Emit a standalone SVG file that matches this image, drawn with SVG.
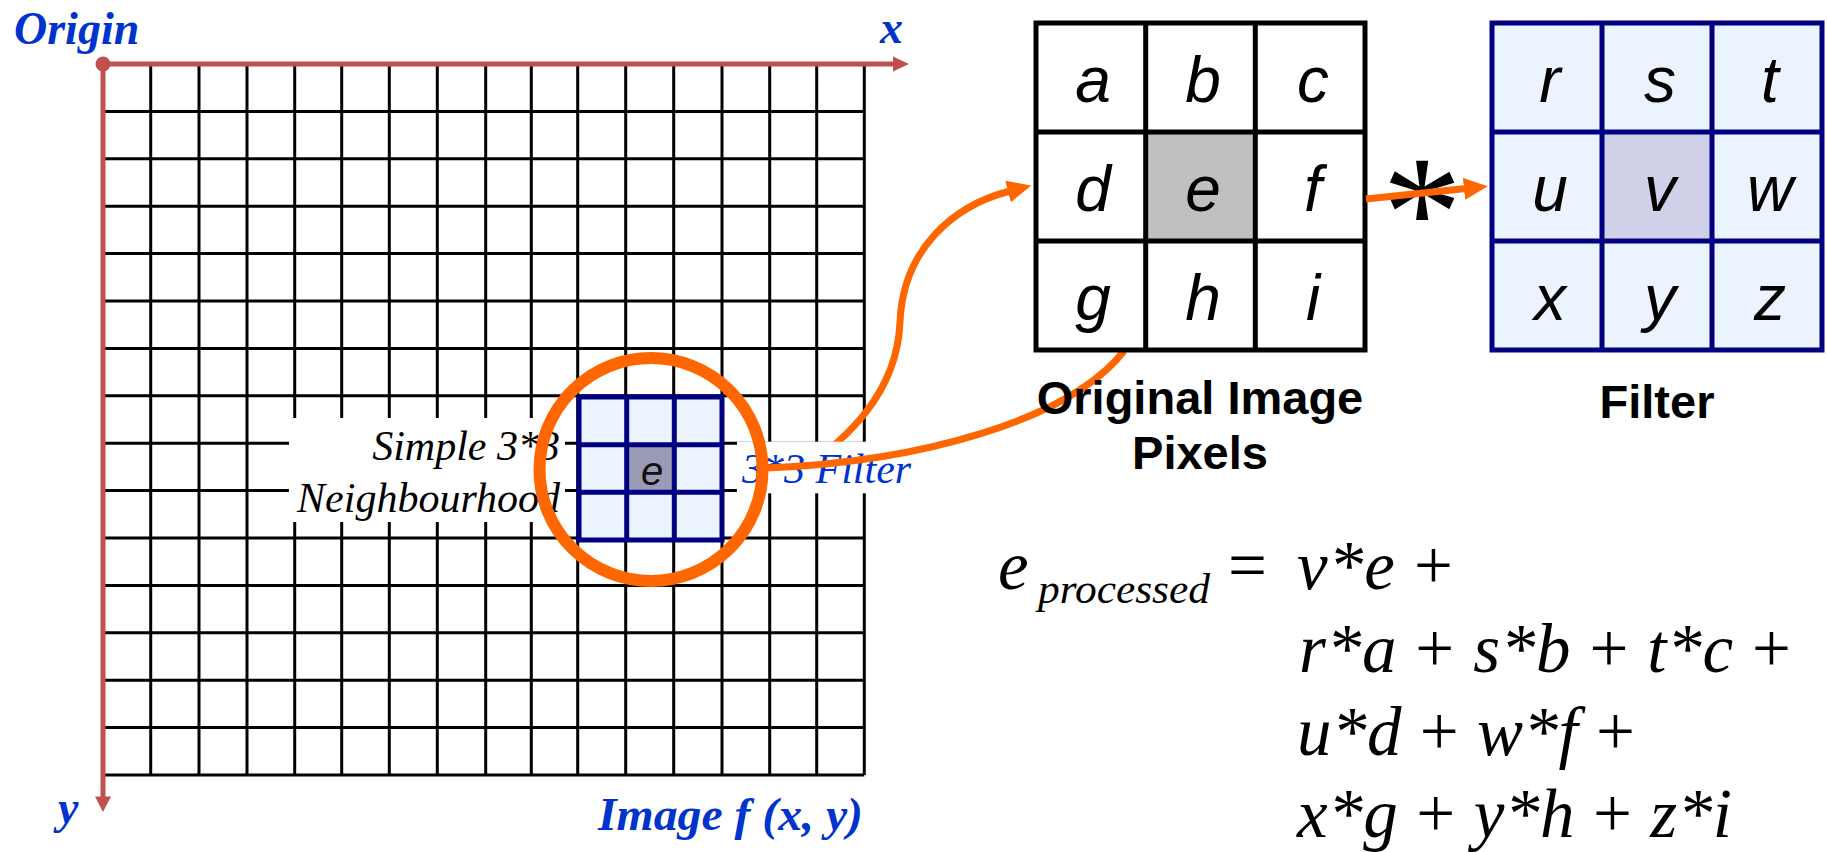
<svg xmlns="http://www.w3.org/2000/svg" width="1827" height="852" viewBox="0 0 1827 852">
<style>
.grid{stroke:#000;stroke-width:3;fill:none}
.axis{stroke:#C0504D;stroke-width:5;fill:none}
.axhead{fill:#C0504D}
.blab{font-family:"Liberation Serif",serif;font-weight:bold;font-style:italic;fill:#0033CC;font-size:46px}
.ilab{font-family:"Liberation Serif",serif;font-style:italic;font-size:42px}
.navy{stroke:#000080;stroke-width:5}
.orng{stroke:#FF6600;stroke-width:7;fill:none}
.cellL{font-family:"Liberation Sans",sans-serif;font-style:italic;font-size:64px;fill:#000;text-anchor:middle}
.head{font-family:"Liberation Sans",sans-serif;font-weight:bold;font-size:47px;fill:#000;text-anchor:middle}
.eq{font-family:"Liberation Serif",serif;font-style:italic;font-size:69px;fill:#000}
.sub{font-family:"Liberation Serif",serif;font-style:italic;font-size:43px;fill:#000}
.up{font-style:normal}
</style>
<defs>
<marker id="oarrow" markerUnits="userSpaceOnUse" viewBox="0 0 24 24" refX="2" refY="12" markerWidth="24" markerHeight="24" orient="auto">
<path d="M0,1 L24,12 L0,23 z" fill="#FF6600"/>
</marker>
</defs>
<rect width="1827" height="852" fill="#fff"/>

<g id="image-grid">
<path class="grid" d="M150.7,64V775M199,64V775M247,64V775M294.7,64V775M341.7,64V775M389.3,64V775M437.3,64V775M485.7,64V775M531.3,64V775M577.7,64V775M625.7,64V775M673.7,64V775M722,64V775M769.7,64V775M816.7,64V775M864.3,64V775
M103,111.4H864.3M103,158.8H864.3M103,206.2H864.3M103,253.6H864.3M103,301H864.3M103,348.4H864.3M103,395.8H864.3M103,443.2H864.3M103,490.6H864.3M103,538H864.3M103,585.4H864.3M103,632.8H864.3M103,680.2H864.3M103,727.6H864.3M103,775H864.3"/>
</g>

<g id="axes">
<path class="axis" d="M103,64H894M103,64V798"/>
<polygon class="axhead" points="893,56.5 909,64 893,71.5"/>
<polygon class="axhead" points="95,796.5 111,796.5 103,812"/>
<circle cx="103" cy="64" r="7.5" fill="#C0504D"/>
<text class="blab" x="14" y="44">Origin</text>
<text class="blab" x="880" y="43">x</text>
<text class="blab" x="58" y="823">y</text>
<text class="blab" x="598" y="830" textLength="265" lengthAdjust="spacingAndGlyphs">Image f (x, y)</text>
</g>

<g id="neighbourhood-filter">
<rect x="579" y="397" width="143" height="143" fill="#EAF3FE"/>
<rect x="626.7" y="444.7" width="47.6" height="47.6" fill="#9B9BB6"/>
<path class="navy" fill="none" d="M579,397H722V540H579Z M626.7,397V540 M674.3,397V540 M579,444.7H722 M579,492.3H722"/>
<text x="652" y="485" font-family="Liberation Sans, sans-serif" font-style="italic" font-size="40" fill="#111" text-anchor="middle">e</text>
</g>

<g id="connectors">
<path id="curve-to-original" class="orng" d="M800,472 C845,440 897,395 900,322 C903,250 952,206 1010,191" marker-end="url(#oarrow)"/>
</g>

<g id="label-simple">
<rect x="289" y="418" width="276" height="104" fill="#fff"/>
<text class="ilab" x="560" y="460" text-anchor="end">Simple 3*3</text>
<text class="ilab" x="560" y="511.5" text-anchor="end">Neighbourhood</text>
</g>

<g id="label-filter">
<rect x="737" y="441.7" width="180" height="51.6" fill="#fff"/>
<text class="ilab" x="742" y="483" fill="#0033CC">3*3 Filter</text>
</g>

<g id="connectors2">
<path id="curve-from-circle" class="orng" d="M766,468 C920,462 1070,420 1124,351"/>
</g>

<g id="focus-circle">
<circle cx="651" cy="469.5" r="111.5" fill="none" stroke="#FF6600" stroke-width="12"/>
</g>

<g id="original-pixels">
<rect x="1145.7" y="132" width="109.7" height="109" fill="#C0C0C0"/>
<path fill="none" stroke="#000" stroke-width="5" d="M1036,23H1365V350H1036Z M1145.7,23V350 M1255.3,23V350 M1036,132H1365 M1036,241H1365"/>
<text class="cellL" x="1093" y="102">a</text>
<text class="cellL" x="1203" y="102">b</text>
<text class="cellL" x="1313" y="102">c</text>
<text class="cellL" x="1093" y="211">d</text>
<text class="cellL" x="1203" y="211">e</text>
<text class="cellL" x="1313" y="211">f</text>
<text class="cellL" x="1093" y="320">g</text>
<text class="cellL" x="1203" y="320">h</text>
<text class="cellL" x="1313" y="320">i</text>
<text class="head" x="1200" y="414">Original Image</text>
<text class="head" x="1200" y="469">Pixels</text>
</g>

<g id="filter">
<rect x="1492" y="23" width="330" height="327" fill="#EAF3FE"/>
<rect x="1602" y="132" width="110" height="109" fill="#D0D0E8"/>
<path class="navy" fill="none" d="M1492,23H1822V350H1492Z M1602,23V350 M1712,23V350 M1492,132H1822 M1492,241H1822"/>
<text class="cellL" x="1550" y="102">r</text>
<text class="cellL" x="1660" y="102">s</text>
<text class="cellL" x="1770" y="102">t</text>
<text class="cellL" x="1550" y="211">u</text>
<text class="cellL" x="1660" y="211">v</text>
<text class="cellL" x="1770" y="211">w</text>
<text class="cellL" x="1550" y="320">x</text>
<text class="cellL" x="1660" y="320">y</text>
<text class="cellL" x="1770" y="320">z</text>
<text class="head" x="1657" y="418">Filter</text>
</g>

<g id="convolve">
<text x="1422" y="266" font-family="Liberation Serif, serif" font-size="160" text-anchor="middle" fill="#000">*</text>
<path class="orng" d="M1366,199 L1466,188.6" marker-end="url(#oarrow)"/>
</g>

<g id="formula">
<text class="eq" x="998" y="589">e</text>
<text class="sub" x="1038" y="603" textLength="172" lengthAdjust="spacingAndGlyphs">processed</text>
<text class="eq up" x="1228" y="589">=</text>
<text class="eq" x="1297" y="589" textLength="156" lengthAdjust="spacing">v*e <tspan class="up">+</tspan></text>
<text class="eq" x="1299" y="672" textLength="492" lengthAdjust="spacing">r*a <tspan class="up">+</tspan> s*b <tspan class="up">+</tspan> t*c <tspan class="up">+</tspan></text>
<text class="eq" x="1297" y="755" textLength="338" lengthAdjust="spacing">u*d <tspan class="up">+</tspan> w*f <tspan class="up">+</tspan></text>
<text class="eq" x="1297" y="837" textLength="435" lengthAdjust="spacing">x*g <tspan class="up">+</tspan> y*h <tspan class="up">+</tspan> z*i</text>
</g>
</svg>
